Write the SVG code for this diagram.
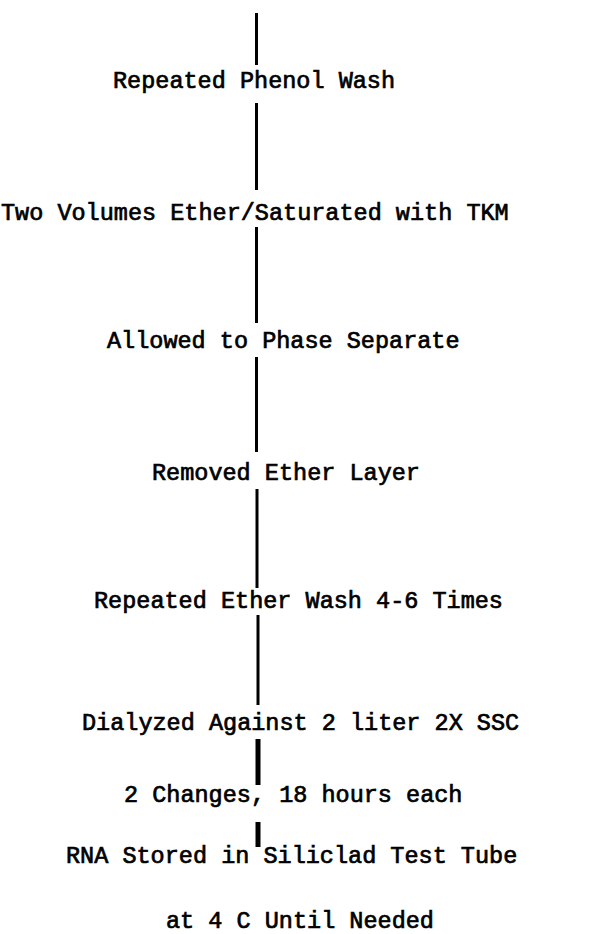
<svg xmlns="http://www.w3.org/2000/svg" width="590" height="934" viewBox="0 0 590 934">
<style>
  .t { font-family: "Liberation Mono", "DejaVu Sans Mono", monospace; font-size: 23.5px; font-weight: normal; fill: #000; stroke: #000; stroke-width: 0.7; }
  .c { stroke: #000; stroke-width: 3; fill: none; }
  .ct { stroke: #000; stroke-width: 5; fill: none; }
</style>
<rect width="590" height="934" fill="#fff"/>
<g id="connectors">
  <line class="c" x1="256.5" y1="13" x2="256.5" y2="65"/>
  <line class="c" x1="256.5" y1="103" x2="256.5" y2="190"/>
  <line class="c" x1="256.5" y1="227" x2="256.5" y2="323"/>
  <line class="c" x1="256.5" y1="357" x2="256.5" y2="452"/>
  <line class="c" x1="257" y1="489" x2="257" y2="588"/>
  <line class="c" x1="258" y1="615" x2="258" y2="705"/>
  <line class="ct" x1="258" y1="739" x2="258" y2="785"/>
  <line class="ct" x1="258" y1="822" x2="258" y2="847"/>
</g>
<g id="n1"><text class="t" x="113" y="88">Repeated Phenol Wash</text></g>
<g id="n2"><text class="t" x="1" y="220">Two Volumes Ether/Saturated with TKM</text></g>
<g id="n3"><text class="t" x="107" y="348">Allowed to Phase Separate</text></g>
<g id="n4"><text class="t" x="152" y="480">Removed Ether Layer</text></g>
<g id="n5"><text class="t" x="94" y="608">Repeated Ether Wash 4-6 Times</text></g>
<g id="n6"><text class="t" x="82" y="730">Dialyzed Against 2 liter 2X SSC</text></g>
<g id="n7"><text class="t" x="124" y="802">2 Changes, 18 hours each</text></g>
<g id="n8"><text class="t" x="66" y="863">RNA Stored in Siliclad Test Tube</text></g>
<g id="n9"><text class="t" x="166" y="928">at 4 C Until Needed</text></g>
</svg>
